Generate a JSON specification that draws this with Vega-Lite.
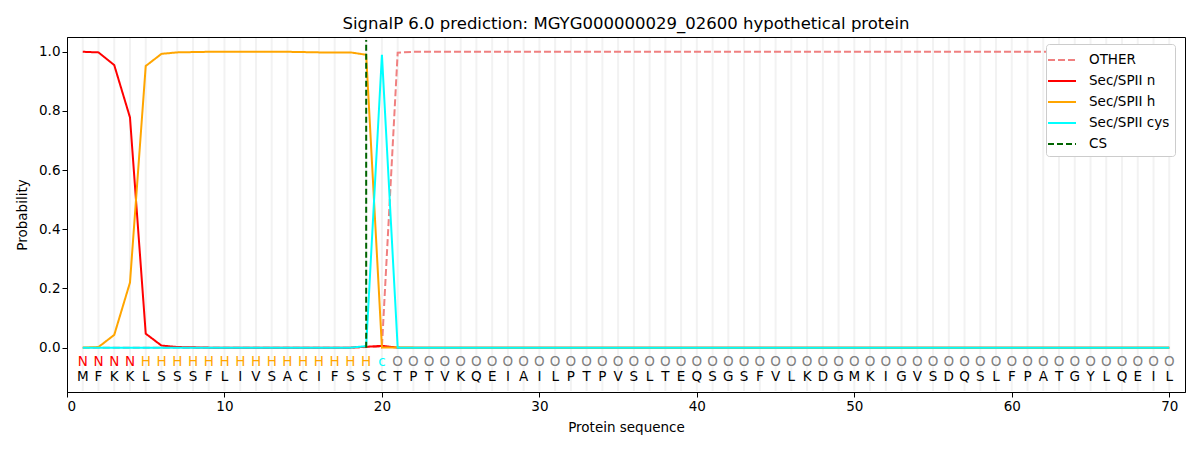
{
  "$schema": "https://vega.github.io/schema/vega-lite/v6.json",
  "autosize": {"type": "none"},
  "width": 1118,
  "height": 355,
  "padding": {"left": 67, "top": 37, "right": 15, "bottom": 58},
  "background": "white",
  "config": {
    "font": "DejaVu Sans",
    "view": {"stroke": "black", "strokeWidth": 1},
    "axis": {"labelFontSize": 13.5, "titleFontSize": 13.5, "labelColor": "black", "titleColor": "black", "domainColor": "black", "tickColor": "black", "grid": false, "titleFontWeight": "normal", "tickSize": 5, "labelPadding": 2},
    "legend": {"labelFontSize": 13.5, "labelColor": "black"}
  },
  "title": {"text": "SignalP 6.0 prediction: MGYG000000029_02600 hypothetical protein", "fontSize": 16.5, "fontWeight": "normal", "color": "black", "anchor": "middle", "offset": 4},
  "data": {"values": [
    {"p":1,"aa":"M","lab":"N","OTHER":0,"Sec/SPII n":1.0,"Sec/SPII h":0,"Sec/SPII cys":0},
    {"p":2,"aa":"F","lab":"N","OTHER":0,"Sec/SPII n":0.998,"Sec/SPII h":0.002,"Sec/SPII cys":0},
    {"p":3,"aa":"K","lab":"N","OTHER":0,"Sec/SPII n":0.955,"Sec/SPII h":0.043,"Sec/SPII cys":0},
    {"p":4,"aa":"K","lab":"N","OTHER":0,"Sec/SPII n":0.778,"Sec/SPII h":0.22,"Sec/SPII cys":0},
    {"p":5,"aa":"L","lab":"H","OTHER":0,"Sec/SPII n":0.047,"Sec/SPII h":0.952,"Sec/SPII cys":0},
    {"p":6,"aa":"S","lab":"H","OTHER":0,"Sec/SPII n":0.007,"Sec/SPII h":0.993,"Sec/SPII cys":0},
    {"p":7,"aa":"S","lab":"H","OTHER":0,"Sec/SPII n":0.002,"Sec/SPII h":0.998,"Sec/SPII cys":0},
    {"p":8,"aa":"S","lab":"H","OTHER":0,"Sec/SPII n":0.001,"Sec/SPII h":0.999,"Sec/SPII cys":0},
    {"p":9,"aa":"F","lab":"H","OTHER":0,"Sec/SPII n":0,"Sec/SPII h":1.0,"Sec/SPII cys":0},
    {"p":10,"aa":"L","lab":"H","OTHER":0,"Sec/SPII n":0,"Sec/SPII h":1.0,"Sec/SPII cys":0},
    {"p":11,"aa":"I","lab":"H","OTHER":0,"Sec/SPII n":0,"Sec/SPII h":1.0,"Sec/SPII cys":0},
    {"p":12,"aa":"V","lab":"H","OTHER":0,"Sec/SPII n":0,"Sec/SPII h":1.0,"Sec/SPII cys":0},
    {"p":13,"aa":"S","lab":"H","OTHER":0,"Sec/SPII n":0,"Sec/SPII h":1.0,"Sec/SPII cys":0},
    {"p":14,"aa":"A","lab":"H","OTHER":0,"Sec/SPII n":0,"Sec/SPII h":1.0,"Sec/SPII cys":0},
    {"p":15,"aa":"C","lab":"H","OTHER":0,"Sec/SPII n":0,"Sec/SPII h":0.999,"Sec/SPII cys":0},
    {"p":16,"aa":"I","lab":"H","OTHER":0,"Sec/SPII n":0,"Sec/SPII h":0.998,"Sec/SPII cys":0},
    {"p":17,"aa":"F","lab":"H","OTHER":0,"Sec/SPII n":0,"Sec/SPII h":0.998,"Sec/SPII cys":0},
    {"p":18,"aa":"S","lab":"H","OTHER":0,"Sec/SPII n":0,"Sec/SPII h":0.998,"Sec/SPII cys":0},
    {"p":19,"aa":"S","lab":"H","OTHER":0.002,"Sec/SPII n":0.003,"Sec/SPII h":0.99,"Sec/SPII cys":0.005},
    {"p":20,"aa":"C","lab":"c","OTHER":0.003,"Sec/SPII n":0.006,"Sec/SPII h":0.0,"Sec/SPII cys":0.99},
    {"p":21,"aa":"T","lab":"O","OTHER":0.997,"Sec/SPII n":0,"Sec/SPII h":0.001,"Sec/SPII cys":0},
    {"p":22,"aa":"P","lab":"O","OTHER":1.0,"Sec/SPII n":0,"Sec/SPII h":0,"Sec/SPII cys":0},
    {"p":23,"aa":"T","lab":"O","OTHER":1.0,"Sec/SPII n":0,"Sec/SPII h":0,"Sec/SPII cys":0},
    {"p":24,"aa":"V","lab":"O","OTHER":1.0,"Sec/SPII n":0,"Sec/SPII h":0,"Sec/SPII cys":0},
    {"p":25,"aa":"K","lab":"O","OTHER":1.0,"Sec/SPII n":0,"Sec/SPII h":0,"Sec/SPII cys":0},
    {"p":26,"aa":"Q","lab":"O","OTHER":1.0,"Sec/SPII n":0,"Sec/SPII h":0,"Sec/SPII cys":0},
    {"p":27,"aa":"E","lab":"O","OTHER":1.0,"Sec/SPII n":0,"Sec/SPII h":0,"Sec/SPII cys":0},
    {"p":28,"aa":"I","lab":"O","OTHER":1.0,"Sec/SPII n":0,"Sec/SPII h":0,"Sec/SPII cys":0},
    {"p":29,"aa":"A","lab":"O","OTHER":1.0,"Sec/SPII n":0,"Sec/SPII h":0,"Sec/SPII cys":0},
    {"p":30,"aa":"I","lab":"O","OTHER":1.0,"Sec/SPII n":0,"Sec/SPII h":0,"Sec/SPII cys":0},
    {"p":31,"aa":"L","lab":"O","OTHER":1.0,"Sec/SPII n":0,"Sec/SPII h":0,"Sec/SPII cys":0},
    {"p":32,"aa":"P","lab":"O","OTHER":1.0,"Sec/SPII n":0,"Sec/SPII h":0,"Sec/SPII cys":0},
    {"p":33,"aa":"T","lab":"O","OTHER":1.0,"Sec/SPII n":0,"Sec/SPII h":0,"Sec/SPII cys":0},
    {"p":34,"aa":"P","lab":"O","OTHER":1.0,"Sec/SPII n":0,"Sec/SPII h":0,"Sec/SPII cys":0},
    {"p":35,"aa":"V","lab":"O","OTHER":1.0,"Sec/SPII n":0,"Sec/SPII h":0,"Sec/SPII cys":0},
    {"p":36,"aa":"S","lab":"O","OTHER":1.0,"Sec/SPII n":0,"Sec/SPII h":0,"Sec/SPII cys":0},
    {"p":37,"aa":"L","lab":"O","OTHER":1.0,"Sec/SPII n":0,"Sec/SPII h":0,"Sec/SPII cys":0},
    {"p":38,"aa":"T","lab":"O","OTHER":1.0,"Sec/SPII n":0,"Sec/SPII h":0,"Sec/SPII cys":0},
    {"p":39,"aa":"E","lab":"O","OTHER":1.0,"Sec/SPII n":0,"Sec/SPII h":0,"Sec/SPII cys":0},
    {"p":40,"aa":"Q","lab":"O","OTHER":1.0,"Sec/SPII n":0,"Sec/SPII h":0,"Sec/SPII cys":0},
    {"p":41,"aa":"S","lab":"O","OTHER":1.0,"Sec/SPII n":0,"Sec/SPII h":0,"Sec/SPII cys":0},
    {"p":42,"aa":"G","lab":"O","OTHER":1.0,"Sec/SPII n":0,"Sec/SPII h":0,"Sec/SPII cys":0},
    {"p":43,"aa":"S","lab":"O","OTHER":1.0,"Sec/SPII n":0,"Sec/SPII h":0,"Sec/SPII cys":0},
    {"p":44,"aa":"F","lab":"O","OTHER":1.0,"Sec/SPII n":0,"Sec/SPII h":0,"Sec/SPII cys":0},
    {"p":45,"aa":"V","lab":"O","OTHER":1.0,"Sec/SPII n":0,"Sec/SPII h":0,"Sec/SPII cys":0},
    {"p":46,"aa":"L","lab":"O","OTHER":1.0,"Sec/SPII n":0,"Sec/SPII h":0,"Sec/SPII cys":0},
    {"p":47,"aa":"K","lab":"O","OTHER":1.0,"Sec/SPII n":0,"Sec/SPII h":0,"Sec/SPII cys":0},
    {"p":48,"aa":"D","lab":"O","OTHER":1.0,"Sec/SPII n":0,"Sec/SPII h":0,"Sec/SPII cys":0},
    {"p":49,"aa":"G","lab":"O","OTHER":1.0,"Sec/SPII n":0,"Sec/SPII h":0,"Sec/SPII cys":0},
    {"p":50,"aa":"M","lab":"O","OTHER":1.0,"Sec/SPII n":0,"Sec/SPII h":0,"Sec/SPII cys":0},
    {"p":51,"aa":"K","lab":"O","OTHER":1.0,"Sec/SPII n":0,"Sec/SPII h":0,"Sec/SPII cys":0},
    {"p":52,"aa":"I","lab":"O","OTHER":1.0,"Sec/SPII n":0,"Sec/SPII h":0,"Sec/SPII cys":0},
    {"p":53,"aa":"G","lab":"O","OTHER":1.0,"Sec/SPII n":0,"Sec/SPII h":0,"Sec/SPII cys":0},
    {"p":54,"aa":"V","lab":"O","OTHER":1.0,"Sec/SPII n":0,"Sec/SPII h":0,"Sec/SPII cys":0},
    {"p":55,"aa":"S","lab":"O","OTHER":1.0,"Sec/SPII n":0,"Sec/SPII h":0,"Sec/SPII cys":0},
    {"p":56,"aa":"D","lab":"O","OTHER":1.0,"Sec/SPII n":0,"Sec/SPII h":0,"Sec/SPII cys":0},
    {"p":57,"aa":"Q","lab":"O","OTHER":1.0,"Sec/SPII n":0,"Sec/SPII h":0,"Sec/SPII cys":0},
    {"p":58,"aa":"S","lab":"O","OTHER":1.0,"Sec/SPII n":0,"Sec/SPII h":0,"Sec/SPII cys":0},
    {"p":59,"aa":"L","lab":"O","OTHER":1.0,"Sec/SPII n":0,"Sec/SPII h":0,"Sec/SPII cys":0},
    {"p":60,"aa":"F","lab":"O","OTHER":1.0,"Sec/SPII n":0,"Sec/SPII h":0,"Sec/SPII cys":0},
    {"p":61,"aa":"P","lab":"O","OTHER":1.0,"Sec/SPII n":0,"Sec/SPII h":0,"Sec/SPII cys":0},
    {"p":62,"aa":"A","lab":"O","OTHER":1.0,"Sec/SPII n":0,"Sec/SPII h":0,"Sec/SPII cys":0},
    {"p":63,"aa":"T","lab":"O","OTHER":1.0,"Sec/SPII n":0,"Sec/SPII h":0,"Sec/SPII cys":0},
    {"p":64,"aa":"G","lab":"O","OTHER":1.0,"Sec/SPII n":0,"Sec/SPII h":0,"Sec/SPII cys":0},
    {"p":65,"aa":"Y","lab":"O","OTHER":1.0,"Sec/SPII n":0,"Sec/SPII h":0,"Sec/SPII cys":0},
    {"p":66,"aa":"L","lab":"O","OTHER":1.0,"Sec/SPII n":0,"Sec/SPII h":0,"Sec/SPII cys":0},
    {"p":67,"aa":"Q","lab":"O","OTHER":1.0,"Sec/SPII n":0,"Sec/SPII h":0,"Sec/SPII cys":0},
    {"p":68,"aa":"E","lab":"O","OTHER":1.0,"Sec/SPII n":0,"Sec/SPII h":0,"Sec/SPII cys":0},
    {"p":69,"aa":"I","lab":"O","OTHER":1.0,"Sec/SPII n":0,"Sec/SPII h":0,"Sec/SPII cys":0},
    {"p":70,"aa":"L","lab":"O","OTHER":1.0,"Sec/SPII n":0,"Sec/SPII h":0,"Sec/SPII cys":0}
  ]},
  "layer": [
    {
      "mark": {"type": "rule", "color": "#f2f2f2", "strokeWidth": 2},
      "encoding": {
        "x": {"field": "p", "type": "quantitative", "scale": {"domain": [0, 71], "nice": false, "zero": false}, "axis": {"values": [0,10,20,30,40,50,60,70], "title": "Protein sequence", "titlePadding": 8}},
        "y": {"datum": -0.147, "type": "quantitative", "scale": {"domain": [-0.15, 1.05], "nice": false, "zero": false}},
        "y2": {"datum": 1.047}
      }
    },
    {
      "transform": [{"fold": ["OTHER", "Sec/SPII n", "Sec/SPII h", "Sec/SPII cys"], "as": ["series", "prob"]}],
      "mark": {"type": "line", "strokeWidth": 2},
      "encoding": {
        "x": {"field": "p", "type": "quantitative"},
        "y": {"field": "prob", "type": "quantitative", "axis": {"values": [0, 0.2, 0.4, 0.6, 0.8, 1.0], "format": ".1f", "title": "Probability", "titlePadding": 9}},
        "color": {"field": "series", "type": "nominal", "scale": {"domain": ["OTHER", "Sec/SPII n", "Sec/SPII h", "Sec/SPII cys", "CS"], "range": ["#f08080", "#ff0000", "#ffa500", "#00ffff", "#006400"]}, "legend": {"title": null, "orient": "none", "legendX": 979, "legendY": 7, "fillColor": "white", "strokeColor": "#cccccc", "cornerRadius": 3, "padding": 5, "symbolType": "M-1.4,0L1.4,0", "symbolSize": 400, "symbolStrokeWidth": 2, "rowPadding": 3, "labelOffset": 16}},
        "strokeDash": {"field": "series", "type": "nominal", "scale": {"domain": ["OTHER", "Sec/SPII n", "Sec/SPII h", "Sec/SPII cys", "CS"], "range": [[7, 3], [1, 0], [1, 0], [1, 0], [6, 3]]}, "legend": null}
      }
    },
    {
      "data": {"values": [{"series": "CS", "p": 19}]},
      "mark": {"type": "rule", "strokeWidth": 2},
      "encoding": {
        "x": {"field": "p", "type": "quantitative"},
        "y": {"datum": 0},
        "y2": {"datum": 1.04},
        "color": {"field": "series", "type": "nominal"},
        "strokeDash": {"field": "series", "type": "nominal"}
      }
    },
    {
      "mark": {"type": "text", "fontSize": 13.5, "baseline": "middle", "align": "center"},
      "encoding": {
        "x": {"field": "p", "type": "quantitative"},
        "y": {"datum": -0.05},
        "text": {"field": "lab"},
        "color": {"condition": [{"test": "datum.lab === 'N'", "value": "#ff0000"}, {"test": "datum.lab === 'H'", "value": "#ffa500"}, {"test": "datum.lab === 'c'", "value": "#00ffff"}], "value": "#808080"}
      }
    },
    {
      "mark": {"type": "text", "fontSize": 13.5, "baseline": "middle", "align": "center", "color": "black"},
      "encoding": {
        "x": {"field": "p", "type": "quantitative"},
        "y": {"datum": -0.1},
        "text": {"field": "aa"}
      }
    }
  ]
}
